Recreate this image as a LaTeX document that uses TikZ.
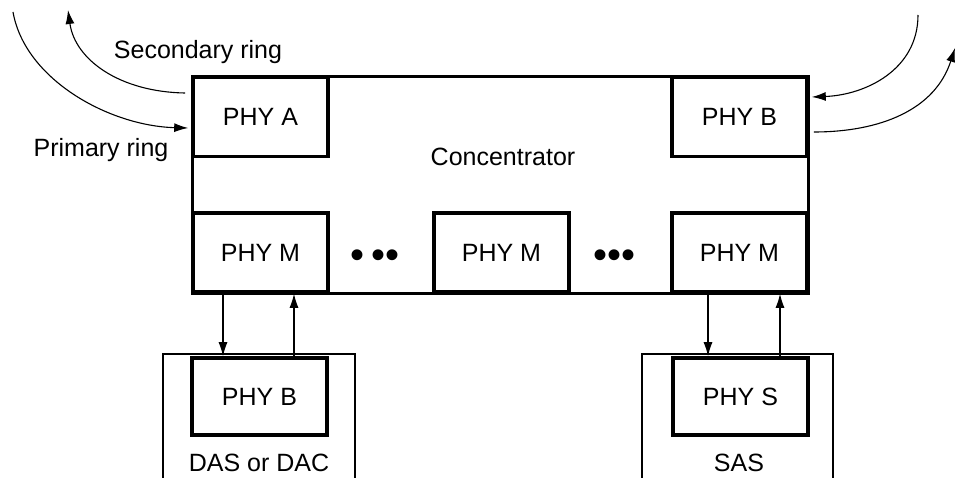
\documentclass[tikz,border=0pt]{standalone}
\usepackage{fontspec}
\setmainfont{Liberation Sans}
\usepackage{tikz}
\usetikzlibrary{positioning, arrows, arrows.meta}

\begin{document}
\begin{tikzpicture}[x=1pt, y=-1pt,
  every node/.style={font=\fontsize{25}{30}\selectfont, inner sep=0pt},
  phy/.style={draw, line width=3.6pt, minimum width=135pt, minimum height=79pt},
  hostbox/.style={line width=1.2pt},
  arr/.style={-{Latex[length=14pt, width=9pt]}, line width=1.2pt},
  ring/.style={-{Latex[length=14pt, width=9pt]}, line width=1.1pt}]
\useasboundingbox (0,0) rectangle (963,478);

% concentrator and its ports
\node[draw, line width=3pt, minimum width=616pt, minimum height=216pt] (conc) at (500,185) {};
\node (conctext) at (503,157) {Concentrator};
\node[phy] (phyA) at (260.5,117) {PHY A};
\node[phy] (phyB) at (739.5,117) {PHY B};
\node[phy] (mL) at (260.5,252.5) {PHY M};
\node[phy] (mC) at (501.5,252.5) {PHY M};
\node[phy] (mR) at (739.5,252.5) {PHY M};
\node (dotsL) at (375,259) {\fontsize{40}{44}\selectfont •\,••};
\node (dotsR) at (614,259) {\fontsize{40}{44}\selectfont •••};

% stations
\draw[hostbox] (163,478) |- (355,354) -- (355,478);
\draw[hostbox] (642,478) |- (833,354) -- (833,478);
\node[phy, minimum height=77pt] (dasB) at (259.5,396.5) {PHY B};
\node[phy, minimum height=77pt] (sasS) at (740.5,396.5) {PHY S};
\node (das) at (259,463) {DAS or DAC};
\node (sas) at (739,463) {SAS};

\draw[arr] ([xshift=-37.5pt]mL.south) -- ([xshift=-37.5pt]mL.south |- dasB.north);
\draw[arr] ([xshift=33.5pt]mL.south |- dasB.north) -- ([xshift=33.5pt]mL.south);
\draw[arr] ([xshift=-31.5pt]mR.south) -- ([xshift=-31.5pt]mR.south |- sasS.north);
\draw[arr] ([xshift=40.5pt]mR.south |- sasS.north) -- ([xshift=40.5pt]mR.south);

% rings
\coordinate (pin) at (13,12);
\coordinate (sout) at (68,10);
\coordinate (rin) at (918,15);
\coordinate (rout) at (955,48);
\draw[ring] (pin) .. controls (25,80) and (110,126) .. ([xshift=-3pt, yshift=-11pt]phyA.west);
\draw[ring] ([xshift=-6pt, yshift=24pt]phyA.west) .. controls (120,92) and (75,60) .. (sout);
\draw[ring] (rin) .. controls (918,70) and (865,95) .. ([xshift=3pt, yshift=20pt]phyB.east);
\draw[ring] ([xshift=5pt, yshift=-15pt]phyB.east) .. controls (880,132) and (935,110) .. (rout);
\node (sec) at (198,52) {Secondary ring};
\node (prim) at (101,150) {Primary ring};
\end{tikzpicture}
\end{document}
